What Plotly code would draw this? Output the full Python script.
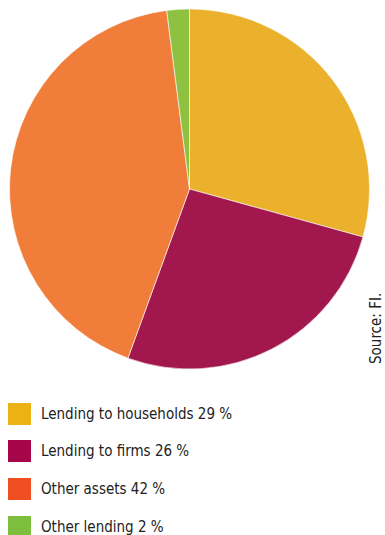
import plotly.graph_objects as go

W, H = 385, 535

categories = ["Lending to households", "Lending to firms", "Other assets", "Other lending"]
shares = [29, 26, 42, 2]
slice_colors = ["#ECB12C", "#A2174E", "#F07D3A", "#8DC13F"]
legend_colors = ["#ECB214", "#A5064A", "#F04E23", "#7DBE3E"]
source_text = "Source: FI."

LABEL_FONT = dict(family="DejaVu Sans Condensed", size=15, color="#222222")

fig = go.Figure()
fig.add_trace(go.Pie(
    labels=categories,
    values=shares,
    marker=dict(colors=slice_colors, line=dict(color="white", width=0.6)),
    sort=False,
    direction="clockwise",
    rotation=0,
    textinfo="none",
    hoverinfo="label+value",
    showlegend=False,
    domain=dict(x=[9 / W, 370 / W], y=[1 - 369 / H, 1 - 9 / H]),
))

def px_x(v):
    return v / W

def px_y(v):
    return 1 - v / H

shapes = []
annotations = []
row_tops = [403, 440, 478, 516]
for name, val, col, top in zip(categories, shares, legend_colors, row_tops):
    shapes.append(dict(type="rect", xref="paper", yref="paper",
                       x0=px_x(8), x1=px_x(31), y0=px_y(top + 22), y1=px_y(top),
                       fillcolor=col, line=dict(width=0)))
    annotations.append(dict(xref="paper", yref="paper", x=px_x(39), y=px_y(top + 11),
                            xanchor="left", yanchor="middle", showarrow=False,
                            text=f"{name} {val} %", font=LABEL_FONT))

annotations.append(dict(xref="paper", yref="paper", x=px_x(376), y=px_y(329),
                        xanchor="center", yanchor="middle", showarrow=False,
                        borderpad=0, textangle=-90, text=source_text, font=LABEL_FONT))

fig.update_layout(
    width=W, height=H,
    margin=dict(l=0, r=0, t=0, b=0),
    paper_bgcolor="white", plot_bgcolor="white",
    shapes=shapes, annotations=annotations,
)

fig.write_html("out.html")
